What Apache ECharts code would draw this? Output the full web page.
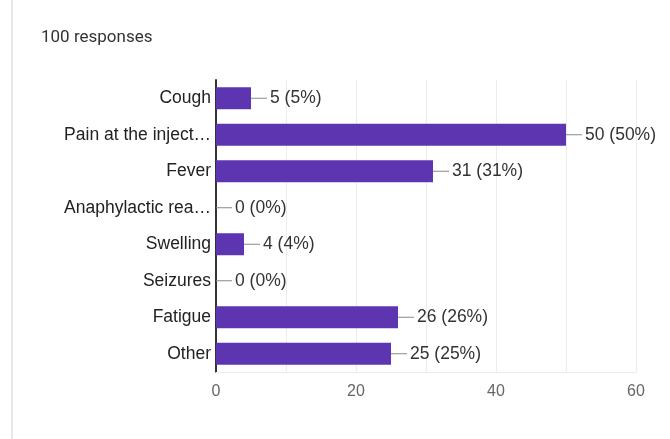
<!DOCTYPE html>
<html lang="en">
<head>
    <meta charset="UTF-8">
    <title>Side effects</title>
    <script src="https://cdn.jsdelivr.net/npm/echarts@6.0.0/dist/echarts.min.js"></script>
    <style>
        html, body { margin: 0; padding: 0; background: #fff; }
    </style>
</head>
<body>
<div id="main" style="width: 670px;height:439px;"></div>
<script type="text/javascript">

    let categories = ['Cough', 'Pain at the injection site', 'Fever', 'Anaphylactic reaction',
        'Swelling', 'Seizures', 'Fatigue', 'Other'];
    let values = [5, 50, 31, 0, 4, 0, 26, 25];
    let totalResponses = 100;
    let xTicks = [0, 20, 40, 60];

    let option = {
        backgroundColor: '#fff',
        animation: false,
        title: {
            text: totalResponses + ' responses',
            left: 36,
            top: 24,
            textStyle: {
                fontFamily: 'Roboto',
                fontWeight: 'normal',
                fontSize: 17,
                color: '#333'
            }
        },
        graphic: [{
            type: 'rect',
            shape: { x: 11, y: 0, width: 2, height: 439 },
            style: { fill: '#e6e6e6' }
        }],
        grid: {
            left: 216,
            right: 34,
            top: 80,
            bottom: 67
        },
        xAxis: {
            type: 'value',
            min: 0,
            max: 60,
            interval: 10,
            axisLine: { show: true, lineStyle: { color: '#ececec' } },
            axisTick: { show: false },
            splitLine: { lineStyle: { color: '#ececec' } },
            axisLabel: {
                color: '#666',
                fontSize: 16,
                fontFamily: 'Liberation Sans',
                margin: 12,
                formatter: function (v) {
                    return xTicks.indexOf(v) >= 0 ? String(v) : '';
                }
            }
        },
        yAxis: {
            type: 'category',
            inverse: true,
            data: categories,
            axisTick: { show: false },
            axisLine: { lineStyle: { color: '#333', width: 2 } },
            axisLabel: {
                color: '#222',
                fontSize: 17.5,
                fontFamily: 'Liberation Sans',
                margin: 5,
                width: 149,
                overflow: 'truncate',
                ellipsis: '…'
            }
        },
        series: [{
            type: 'bar',
            data: values,
            barWidth: 22,
            itemStyle: { color: '#5e35b1' },
            label: {
                show: true,
                position: 'right',
                distance: 0,
                formatter: function (p) {
                    let pct = Math.round(p.value / totalResponses * 100);
                    return '{l|}{v|' + p.value + ' (' + pct + '%)}';
                },
                rich: {
                    l: { width: 16, height: 1, backgroundColor: '#888' },
                    v: { color: '#333', fontSize: 17.5, fontFamily: 'Liberation Sans', padding: [0, 0, 0, 3] }
                }
            }
        }]
    };

    let myChart = echarts.init(document.getElementById('main'));
    myChart.setOption(option);
</script>
</body>
</html>
